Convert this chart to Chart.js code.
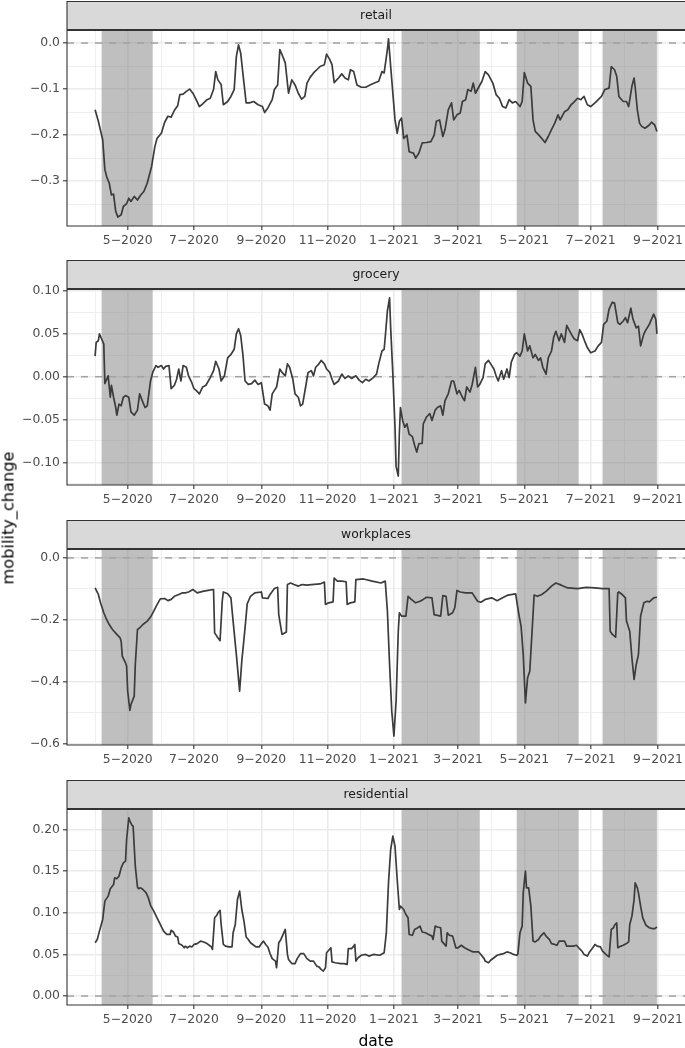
<!DOCTYPE html>
<html>
<head>
<meta charset="utf-8">
<script src="https://cdn.jsdelivr.net/npm/chart.js@4.4.0/dist/chart.umd.min.js"></script>
<style>
html,body{margin:0;padding:0;background:#fff;width:685px;height:1048px;overflow:hidden;}
.panel{position:absolute;left:0;width:685px;}
canvas{display:block;}
#ytitle{position:absolute;left:8px;top:517.5px;transform:translate(-50%,-50%) rotate(-90deg);
  font-family:"DejaVu Sans";font-size:16.2px;color:#000;white-space:nowrap;}
</style>
</head>
<body>
<div class="panel" style="top:0px"><canvas id="c0" width="685" height="259"></canvas></div>
<div class="panel" style="top:259px"><canvas id="c1" width="685" height="260"></canvas></div>
<div class="panel" style="top:519px"><canvas id="c2" width="685" height="260"></canvas></div>
<div class="panel" style="top:779px"><canvas id="c3" width="685" height="272"></canvas></div>
<div id="ytitle">mobility_change</div>
<script>
// ---------------- data ----------------
const ORIGIN_DATE = '2020-05-01'; // day offsets below count days from this date

const panelNames = ['retail', 'grocery', 'workplaces', 'residential'];
const xTitle = 'date';

const xMajorDates = ['2020-05-01','2020-07-01','2020-09-01','2020-11-01','2021-01-01','2021-03-01','2021-05-01','2021-07-01','2021-09-01'];
const xTickLabels = ['5\u22122020','7\u22122020','9\u22122020','11\u22122020','1\u22122021','3\u22122021','5\u22122021','7\u22122021','9\u22122021'];
const xMinorDates = ['2020-04-01','2020-06-01','2020-08-01','2020-10-01','2020-12-01','2021-02-01','2021-04-01','2021-06-01','2021-08-01'];

const shadeStarts = ['2020-04-07','2021-01-08','2021-04-24','2021-07-12'];
const shadeEnds   = ['2020-05-24','2021-03-21','2021-06-20','2021-08-31'];

const retailDays = [-30,-27,-23,-21,-19,-17,-15,-13,-11,-9,
  -6,-4,-1,1,3,6,9,12,15,18,
  22,25,27,31,34,37,40,43,46,48,
  51,54,57,60,63,66,69,73,76,79,
  81,83,86,88,92,95,98,100,102,104,
  107,109,112,116,120,124,126,129,133,135,
  138,140,142,145,148,151,154,157,160,163,
  165,168,171,174,177,181,183,186,188,190,
  194,197,200,203,205,208,211,215,219,223,
  227,231,234,236,239,240,242,244,246,248,
  250,252,254,257,259,263,265,268,271,275,
  279,282,284,287,290,292,295,298,300,303,
  306,308,311,313,316,318,320,323,326,329,
  332,336,339,342,345,348,351,354,357,361,
  363,365,368,371,373,375,378,382,384,387,
  390,393,396,398,402,405,408,410,414,417,
  420,423,426,430,433,436,439,443,445,448,
  450,452,456,459,461,464,466,467,469,471,
  473,476,480,482,485,487];
const retailValues = [-0.145,-0.17,-0.21,-0.275,-0.293,-0.304,-0.33,-0.328,-0.366,-0.378,
  -0.373,-0.355,-0.349,-0.337,-0.344,-0.333,-0.341,-0.33,-0.322,-0.304,
  -0.268,-0.225,-0.207,-0.196,-0.172,-0.159,-0.161,-0.146,-0.136,-0.112,
  -0.111,-0.105,-0.1,-0.109,-0.123,-0.138,-0.132,-0.123,-0.12,-0.101,
  -0.062,-0.08,-0.09,-0.134,-0.127,-0.116,-0.101,-0.029,-0.004,-0.022,
  -0.087,-0.13,-0.13,-0.127,-0.134,-0.138,-0.151,-0.141,-0.123,-0.101,
  -0.091,-0.014,-0.025,-0.043,-0.109,-0.08,-0.091,-0.109,-0.122,-0.116,
  -0.087,-0.074,-0.065,-0.058,-0.051,-0.047,-0.024,-0.036,-0.047,-0.086,
  -0.076,-0.067,-0.076,-0.08,-0.058,-0.062,-0.091,-0.096,-0.096,-0.091,
  -0.087,-0.083,-0.062,-0.065,-0.014,0.009,-0.051,-0.109,-0.167,-0.196,
  -0.17,-0.163,-0.207,-0.2,-0.236,-0.239,-0.25,-0.239,-0.217,-0.216,
  -0.214,-0.2,-0.17,-0.167,-0.203,-0.188,-0.145,-0.13,-0.167,-0.156,
  -0.152,-0.127,-0.123,-0.101,-0.105,-0.087,-0.109,-0.096,-0.083,-0.062,
  -0.069,-0.087,-0.112,-0.12,-0.138,-0.141,-0.123,-0.13,-0.127,-0.138,
  -0.127,-0.064,-0.087,-0.094,-0.167,-0.192,-0.199,-0.21,-0.216,-0.203,
  -0.188,-0.174,-0.156,-0.167,-0.149,-0.145,-0.134,-0.13,-0.12,-0.123,
  -0.116,-0.134,-0.138,-0.13,-0.123,-0.116,-0.101,-0.098,-0.051,-0.058,
  -0.072,-0.116,-0.127,-0.127,-0.138,-0.094,-0.076,-0.096,-0.145,-0.174,
  -0.181,-0.185,-0.178,-0.172,-0.178,-0.192];

const groceryDays = [-30,-29,-27,-26,-24,-22,-21,-20,-18,-16,
  -15,-13,-11,-10,-8,-6,-4,-2,1,3,
  6,9,11,14,16,18,21,23,26,28,
  31,33,35,38,40,43,45,47,49,51,
  54,56,59,61,63,66,69,72,76,79,
  81,84,86,89,92,95,98,100,102,104,
  106,108,111,114,117,120,123,126,129,131,
  133,135,137,140,142,145,147,149,152,154,
  157,159,161,164,166,169,171,173,176,178,
  181,183,186,188,190,194,197,200,203,206,
  210,213,216,219,222,226,229,231,234,236,
  237,239,241,242,244,246,247,249,250,251,
  253,255,257,259,262,264,266,268,271,272,
  275,278,280,283,285,288,290,292,295,298,
  300,303,305,308,310,312,315,317,320,322,
  324,327,329,332,334,337,339,341,344,346,
  349,351,353,356,358,361,363,365,368,370,
  373,375,378,380,382,385,387,390,392,394,
  397,399,402,404,406,409,411,414,416,418,
  421,423,426,430,433,436,438,441,443,446,
  448,451,453,456,458,460,463,465,468,470,
  472,475,477,480,482,484,486,487];
const groceryValues = [0.024,0.04,0.042,0.05,0.044,0.038,-0.008,-0.005,0.001,-0.024,
  -0.01,-0.024,-0.036,-0.045,-0.032,-0.034,-0.024,-0.022,-0.024,-0.041,
  -0.045,-0.039,-0.02,-0.03,-0.036,-0.034,-0.005,0.005,0.013,0.011,
  0.013,0.009,0.012,0.013,-0.014,-0.01,-0.003,0.009,-0.005,0.013,
  0.011,0.001,-0.007,-0.014,-0.016,-0.02,-0.012,-0.01,-0.001,0.007,
  0.018,0.009,-0.005,0.001,0.022,0.026,0.032,0.05,0.056,0.048,
  0.026,-0.005,-0.009,-0.008,-0.004,-0.009,-0.007,-0.032,-0.034,-0.039,
  -0.02,-0.016,-0.012,0.009,0.005,0.001,0.015,0.011,-0.003,-0.02,
  -0.024,-0.034,-0.032,-0.01,0.005,0.007,0.001,0.011,0.015,0.019,
  0.015,0.009,0.005,-0.003,-0.009,-0.005,0.003,-0.002,0.001,-0.002,
  0.001,-0.004,-0.007,-0.003,-0.005,-0.001,0.003,0.015,0.03,0.032,
  0.046,0.077,0.092,0.057,0.003,-0.059,-0.105,-0.116,-0.067,-0.036,
  -0.051,-0.059,-0.055,-0.067,-0.07,-0.08,-0.088,-0.078,-0.078,-0.055,
  -0.047,-0.043,-0.051,-0.039,-0.036,-0.034,-0.045,-0.028,-0.02,-0.005,
  -0.005,-0.02,-0.016,-0.024,-0.028,-0.012,-0.018,-0.009,0.011,-0.012,
  -0.009,-0.001,0.015,0.019,0.015,0.009,0.001,-0.005,0.007,-0.003,
  0.009,-0.001,0.017,0.026,0.028,0.024,0.03,0.05,0.03,0.036,
  0.022,0.026,0.019,0.022,0.011,0.003,0.022,0.03,0.046,0.053,
  0.042,0.05,0.04,0.06,0.055,0.048,0.044,0.042,0.055,0.05,
  0.04,0.034,0.028,0.03,0.036,0.04,0.061,0.065,0.079,0.087,
  0.086,0.063,0.061,0.065,0.069,0.063,0.08,0.067,0.057,0.059,
  0.036,0.05,0.055,0.061,0.067,0.073,0.067,0.05];

const workplacesDays = [-30,-27,-25,-22,-20,-17,-14,-10,-7,-6,
  -5,-2,-1,0,2,3,6,7,9,11,
  14,18,21,24,27,30,34,37,40,43,
  47,50,53,56,60,64,69,74,79,80,
  83,85,87,88,92,95,97,100,103,105,
  108,110,113,117,123,124,129,131,135,138,
  139,142,146,147,150,153,157,159,161,165,
  169,177,181,182,185,189,190,193,197,201,
  202,205,209,210,217,225,233,237,239,241,
  243,245,247,249,250,252,256,258,261,265,
  269,272,275,280,282,288,290,293,295,299,
  301,303,306,311,317,322,325,329,335,340,
  345,350,357,360,362,364,366,368,370,373,
  374,377,381,385,390,394,399,405,414,422,
  430,437,443,444,446,449,451,452,455,458,
  459,462,464,466,468,470,472,475,478,480,
  484,487];
const workplacesValues = [-0.097,-0.118,-0.145,-0.177,-0.194,-0.215,-0.231,-0.247,-0.258,-0.269,
  -0.317,-0.339,-0.349,-0.43,-0.492,-0.473,-0.446,-0.344,-0.231,-0.226,
  -0.215,-0.204,-0.191,-0.172,-0.151,-0.132,-0.131,-0.138,-0.134,-0.124,
  -0.118,-0.113,-0.113,-0.11,-0.102,-0.113,-0.108,-0.105,-0.102,-0.242,
  -0.258,-0.267,-0.14,-0.11,-0.116,-0.129,-0.204,-0.312,-0.43,-0.333,
  -0.226,-0.148,-0.124,-0.113,-0.11,-0.129,-0.131,-0.118,-0.099,-0.095,
  -0.183,-0.247,-0.239,-0.086,-0.081,-0.086,-0.091,-0.088,-0.086,-0.088,
  -0.086,-0.084,-0.078,-0.15,-0.145,-0.142,-0.065,-0.075,-0.075,-0.077,
  -0.15,-0.145,-0.142,-0.07,-0.068,-0.075,-0.081,-0.075,-0.172,-0.344,
  -0.495,-0.575,-0.462,-0.237,-0.177,-0.188,-0.188,-0.124,-0.134,-0.145,
  -0.14,-0.134,-0.127,-0.129,-0.183,-0.188,-0.122,-0.124,-0.185,-0.177,
  -0.161,-0.105,-0.11,-0.113,-0.113,-0.14,-0.143,-0.134,-0.129,-0.138,
  -0.129,-0.12,-0.116,-0.183,-0.22,-0.312,-0.468,-0.387,-0.366,-0.183,
  -0.12,-0.124,-0.118,-0.108,-0.091,-0.081,-0.088,-0.097,-0.099,-0.095,
  -0.097,-0.099,-0.099,-0.237,-0.247,-0.256,-0.113,-0.11,-0.118,-0.129,
  -0.204,-0.237,-0.323,-0.392,-0.344,-0.312,-0.188,-0.145,-0.14,-0.142,
  -0.129,-0.127];

const residentialDays = [-30,-28,-26,-23,-21,-18,-16,-13,-12,-10,
  -8,-6,-4,-2,-1,1,2,4,5,7,
  9,10,12,14,17,19,21,24,27,30,
  33,36,39,40,42,44,46,47,50,52,
  53,55,57,59,61,64,67,70,73,75,
  77,78,80,82,83,85,86,88,90,93,
  96,97,99,101,103,105,107,109,111,113,
  116,118,121,123,125,127,129,131,133,136,
  137,139,141,143,145,147,148,151,154,156,
  159,162,165,168,171,174,176,178,180,182,
  183,185,187,188,191,196,199,202,203,206,
  208,209,210,212,215,219,222,226,232,236,
  238,240,242,244,246,248,250,251,254,256,
  258,259,262,264,267,269,271,274,277,280,
  281,283,285,288,289,291,293,294,296,299,
  302,304,307,310,313,316,318,321,323,325,
  328,329,332,334,337,340,343,346,349,352,
  355,358,359,361,363,364,366,367,369,371,
  373,375,378,380,383,385,388,390,393,395,
  397,400,402,404,407,410,413,415,418,420,
  423,425,428,430,432,435,437,440,442,443,
  445,447,448,450,451,454,456,459,461,462,
  464,466,467,469,470,472,474,477,480,483,
  485,487];
const residentialValues = [0.064,0.068,0.078,0.092,0.114,0.12,0.129,0.134,0.142,0.141,
  0.144,0.154,0.16,0.162,0.188,0.214,0.21,0.205,0.204,0.156,
  0.131,0.129,0.13,0.128,0.124,0.118,0.109,0.102,0.094,0.086,
  0.078,0.074,0.074,0.079,0.077,0.072,0.071,0.063,0.061,0.058,
  0.06,0.058,0.06,0.059,0.062,0.063,0.066,0.065,0.063,0.061,
  0.059,0.056,0.094,0.097,0.1,0.103,0.086,0.062,0.06,0.059,
  0.059,0.076,0.086,0.116,0.126,0.104,0.09,0.071,0.068,0.064,
  0.061,0.059,0.059,0.063,0.066,0.062,0.059,0.051,0.045,0.042,
  0.034,0.064,0.068,0.074,0.08,0.05,0.044,0.039,0.039,0.045,
  0.051,0.051,0.045,0.042,0.042,0.036,0.035,0.032,0.03,0.034,
  0.052,0.055,0.058,0.041,0.04,0.039,0.039,0.038,0.057,0.057,
  0.06,0.062,0.042,0.046,0.049,0.05,0.048,0.05,0.049,0.052,
  0.076,0.136,0.176,0.192,0.18,0.14,0.104,0.108,0.104,0.098,
  0.094,0.074,0.073,0.08,0.082,0.084,0.077,0.076,0.074,0.072,
  0.068,0.084,0.083,0.082,0.066,0.063,0.06,0.076,0.073,0.072,
  0.058,0.058,0.061,0.058,0.056,0.054,0.053,0.053,0.053,0.05,
  0.045,0.042,0.04,0.043,0.046,0.049,0.05,0.051,0.053,0.052,
  0.05,0.049,0.05,0.076,0.084,0.124,0.15,0.13,0.13,0.108,
  0.066,0.065,0.068,0.072,0.076,0.072,0.068,0.063,0.062,0.061,
  0.066,0.066,0.066,0.06,0.06,0.06,0.061,0.058,0.054,0.05,
  0.048,0.053,0.058,0.062,0.06,0.059,0.054,0.05,0.048,0.047,
  0.08,0.082,0.085,0.088,0.058,0.06,0.061,0.063,0.065,0.086,
  0.096,0.116,0.136,0.13,0.124,0.108,0.094,0.085,0.082,0.081,
  0.081,0.083];

const retailYTicks = [-0.3,-0.2,-0.1,0.0];
const retailYLabels = ['\u22120.3','\u22120.2','\u22120.1','0.0'];
const retailYMinor = [-0.35,-0.25,-0.15,-0.05];
const groceryYTicks = [-0.10,-0.05,0.00,0.05,0.10];
const groceryYLabels = ['\u22120.10','\u22120.05','0.00','0.05','0.10'];
const groceryYMinor = [-0.125,-0.075,-0.025,0.025,0.075];
const workplacesYTicks = [-0.6,-0.4,-0.2,0.0];
const workplacesYLabels = ['\u22120.6','\u22120.4','\u22120.2','0.0'];
const workplacesYMinor = [-0.5,-0.3,-0.1];
const residentialYTicks = [0.00,0.05,0.10,0.15,0.20];
const residentialYLabels = ['0.00','0.05','0.10','0.15','0.20'];
const residentialYMinor = [0.025,0.075,0.125,0.175,0.225];

// ---------------- helpers ----------------
const ORIGIN_MS = Date.parse(ORIGIN_DATE + 'T00:00:00Z');
function toDay(s) { return Math.round((Date.parse(s + 'T00:00:00Z') - ORIGIN_MS) / 86400000); }

const xMajor = xMajorDates.map(toDay);
const xMinor = xMinorDates.map(toDay);
const shades = shadeStarts.map((s, i) => [toDay(s), toDay(shadeEnds[i])]);

const seriesDays = [retailDays, groceryDays, workplacesDays, residentialDays];
const seriesValues = [retailValues, groceryValues, workplacesValues, residentialValues];
const yTicksAll = [retailYTicks, groceryYTicks, workplacesYTicks, residentialYTicks];
const yLabelsAll = [retailYLabels, groceryYLabels, workplacesYLabels, residentialYLabels];
const yMinorAll = [retailYMinor, groceryYMinor, workplacesYMinor, residentialYMinor];

const allDays = [].concat(...seriesDays);
const xLo = Math.min(...allDays), xHi = Math.max(...allDays);
const xPad = (xHi - xLo) * 0.05;

function buildTickList(major, minor) {
  return major.map(v => ({value: v, minor: false}))
    .concat(minor.map(v => ({value: v, minor: true})))
    .sort((a, b) => a.value - b.value);
}
function labelFor(v, vals, labels) {
  for (let i = 0; i < vals.length; i++) if (Math.abs(vals[i] - v) < 1e-9) return labels[i];
  return '';
}

Chart.defaults.font.family = 'DejaVu Sans';
Chart.defaults.font.size = 12.4;
Chart.defaults.color = '#4d4d4d';

const facetPlugin = {
  id: 'facet',
  beforeDraw(chart) {
    const {ctx, chartArea: a} = chart;
    ctx.save();
    ctx.fillStyle = '#d9d9d9';
    ctx.fillRect(a.left, 1.5, chart.width - a.left + 2, a.top - 1.5);
    ctx.restore();
  },
  beforeDatasetsDraw(chart) {
    const {ctx, chartArea: a, scales} = chart;
    const x = scales.x, y = scales.y;
    ctx.save();
    ctx.beginPath();
    ctx.rect(a.left, a.top, a.right - a.left, a.bottom - a.top);
    ctx.clip();
    ctx.fillStyle = 'rgba(127,127,127,0.5)';
    shades.forEach(([s, e]) => {
      const x0 = x.getPixelForValue(s), x1 = x.getPixelForValue(e);
      ctx.fillRect(x0, a.top, x1 - x0, a.bottom - a.top);
    });
    const y0 = y.getPixelForValue(0);
    ctx.strokeStyle = '#a3a3a3';
    ctx.lineWidth = 1.5;
    ctx.setLineDash([7, 7]);
    ctx.beginPath();
    ctx.moveTo(a.left, y0);
    ctx.lineTo(a.right, y0);
    ctx.stroke();
    ctx.restore();
  },
  afterDraw(chart) {
    const {ctx, chartArea: a} = chart;
    const r = chart.width + 2;
    ctx.save();
    ctx.strokeStyle = '#333333';
    ctx.lineWidth = 1.1;
    ctx.beginPath();
    ctx.moveTo(r, 1.5); ctx.lineTo(a.left, 1.5); ctx.lineTo(a.left, a.bottom); ctx.lineTo(r, a.bottom);
    ctx.stroke();
    ctx.lineWidth = 2;
    ctx.beginPath();
    ctx.moveTo(a.left, a.top); ctx.lineTo(r, a.top);
    ctx.stroke();
    ctx.restore();
  }
};

const canvasHeights = [259, 260, 260, 272];
const PANEL_H = 196;
const TOP_H = 1.5 + 7 + 12.4 * 1.2 + 6.6;

panelNames.forEach((name, p) => {
  const isLast = p === panelNames.length - 1;
  const vals = seriesValues[p];
  const lo = Math.min(0, ...vals), hi = Math.max(0, ...vals);
  const yPad = (hi - lo) * 0.05;
  const data = seriesDays[p].map((d, i) => ({x: d, y: vals[i]}));
  const xAxisH = canvasHeights[p] - TOP_H - PANEL_H;
  const yT = yTicksAll[p], yL = yLabelsAll[p], yM = yMinorAll[p];

  new Chart(document.getElementById('c' + p), {
    type: 'line',
    data: {datasets: [{data, borderColor: '#3c3c3c', borderWidth: 1.7, pointRadius: 0,
      tension: 0, fill: false, borderJoinStyle: 'round'}]},
    plugins: [facetPlugin],
    options: {
      responsive: false,
      animation: false,
      events: [],
      layout: {padding: {top: 1.5, left: 0, right: 0, bottom: 0}},
      plugins: {
        legend: {display: false},
        tooltip: {enabled: false},
        title: {display: true, text: name, fullSize: false, color: '#1a1a1a',
          font: {size: 12.4, weight: 'normal'}, padding: {top: 7, bottom: 6.6}}
      },
      scales: {
        x: {
          type: 'linear', bounds: 'data', min: xLo - xPad, max: xHi + xPad,
          afterBuildTicks: s => { s.ticks = buildTickList(xMajor, xMinor); },
          afterFit: s => { s.height = xAxisH; s.paddingLeft = 0; s.paddingRight = 0; },
          ticks: {autoSkip: false, maxRotation: 0, minRotation: 0, padding: 3.5,
            callback: (v, i, t) => t[i] && t[i].minor ? '' : labelFor(v, xMajor, xTickLabels)},
          grid: {color: '#ebebeb', lineWidth: c => (c.tick && c.tick.minor) ? 0.8 : 1.6,
            tickLength: 4, tickWidth: 1.1,
            tickColor: c => (c.tick && c.tick.minor) ? 'rgba(0,0,0,0)' : '#333333'},
          border: {display: false},
          title: {display: isLast, text: xTitle, color: '#000000', font: {size: 15.5}, padding: 0}
        },
        y: {
          type: 'linear', position: 'left', bounds: 'data', min: lo - yPad, max: hi + yPad,
          afterBuildTicks: s => { s.ticks = buildTickList(yT, yM); },
          afterFit: s => { s.width = 67; s.paddingTop = 0; s.paddingBottom = 0; },
          ticks: {autoSkip: false, padding: 3,
            callback: (v, i, t) => t[i] && t[i].minor ? '' : labelFor(v, yT, yL)},
          grid: {color: '#ebebeb', lineWidth: c => (c.tick && c.tick.minor) ? 0.8 : 1.6,
            tickLength: 4, tickWidth: 1.1,
            tickColor: c => (c.tick && c.tick.minor) ? 'rgba(0,0,0,0)' : '#333333'},
          border: {display: false}
        }
      }
    }
  });
});
</script>
</body>
</html>
